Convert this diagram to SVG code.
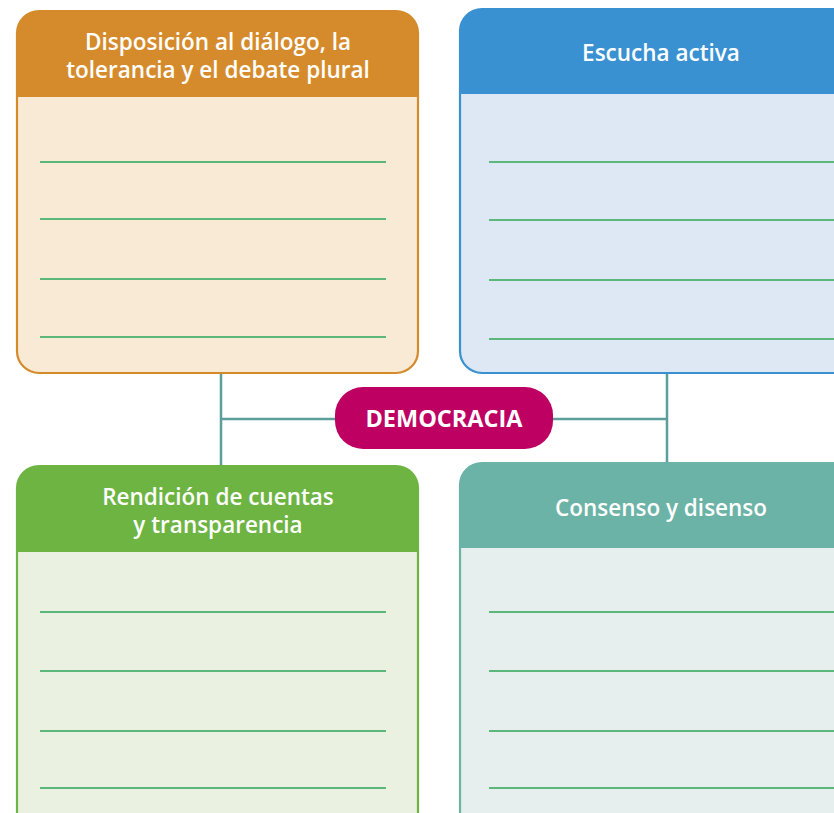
<svg xmlns="http://www.w3.org/2000/svg" width="834" height="813" viewBox="0 0 834 813">
<style>
.ht{font-family:"Open Sans","Noto Sans","Liberation Sans",sans-serif;font-weight:600;font-size:22.5px;fill:#ffffff;text-anchor:middle}
.wl{stroke:#5cb87a;stroke-width:2;fill:none}
.conn{stroke:#5b9e9c;stroke-width:2.5;fill:none}
</style>
<rect width="834" height="813" fill="#ffffff"/>
<g id="connectors">
<line class="conn" x1="221" y1="372" x2="221" y2="467"/>
<line class="conn" x1="667" y1="372" x2="667" y2="464"/>
<line class="conn" x1="221" y1="419" x2="336" y2="419"/>
<line class="conn" x1="552" y1="419" x2="667" y2="419"/>
</g>
<g id="box-dialogo">
<rect x="17" y="11" width="401" height="362" rx="22" fill="#f9ead6" stroke="#d58b2b" stroke-width="2.2"/>
<path d="M17,97 V33 A22,22 0 0 1 39,11 H396 A22,22 0 0 1 418,33 V97 Z" fill="#d58b2b"/>
<text class="ht" x="218" y="50">Disposición al diálogo, la</text>
<text class="ht" x="218" y="78">tolerancia y el debate plural</text>
<line class="wl" x1="40" y1="162" x2="386" y2="162"/>
<line class="wl" x1="40" y1="219" x2="386" y2="219"/>
<line class="wl" x1="40" y1="279" x2="386" y2="279"/>
<line class="wl" x1="40" y1="337" x2="386" y2="337"/>
</g>
<g id="box-escucha">
<rect x="460" y="9" width="420" height="364" rx="22" fill="#dde8f4" stroke="#3a91d1" stroke-width="2.2"/>
<path d="M460,94 V31 A22,22 0 0 1 482,9 H858 A22,22 0 0 1 880,31 V94 Z" fill="#3a91d1"/>
<text class="ht" x="661" y="61">Escucha activa</text>
<line class="wl" x1="489" y1="162" x2="834" y2="162"/>
<line class="wl" x1="489" y1="220" x2="834" y2="220"/>
<line class="wl" x1="489" y1="280" x2="834" y2="280"/>
<line class="wl" x1="489" y1="339" x2="834" y2="339"/>
</g>
<g id="box-rendicion">
<rect x="17" y="466" width="401" height="370" rx="22" fill="#eaf1e0" stroke="#6db443" stroke-width="2.2"/>
<path d="M17,552 V488 A22,22 0 0 1 39,466 H396 A22,22 0 0 1 418,488 V552 Z" fill="#6db443"/>
<text class="ht" x="218" y="505">Rendición de cuentas</text>
<text class="ht" x="218" y="533">y transparencia</text>
<line class="wl" x1="40" y1="612" x2="386" y2="612"/>
<line class="wl" x1="40" y1="671" x2="386" y2="671"/>
<line class="wl" x1="40" y1="731" x2="386" y2="731"/>
<line class="wl" x1="40" y1="788" x2="386" y2="788"/>
</g>
<g id="box-consenso">
<rect x="460" y="463" width="420" height="380" rx="22" fill="#e6eeee" stroke="#6bb3a6" stroke-width="2.2"/>
<path d="M460,548 V485 A22,22 0 0 1 482,463 H858 A22,22 0 0 1 880,485 V548 Z" fill="#6bb3a6"/>
<text class="ht" x="661" y="516">Consenso y disenso</text>
<line class="wl" x1="489" y1="612" x2="834" y2="612"/>
<line class="wl" x1="489" y1="671" x2="834" y2="671"/>
<line class="wl" x1="489" y1="731" x2="834" y2="731"/>
<line class="wl" x1="489" y1="788" x2="834" y2="788"/>
</g>
<g id="democracia">
<rect x="335" y="387" width="218" height="62" rx="28" fill="#bd0062"/>
<text class="ht" x="444" y="427" style="font-weight:700;font-size:23.5px">DEMOCRACIA</text>
</g>
</svg>
